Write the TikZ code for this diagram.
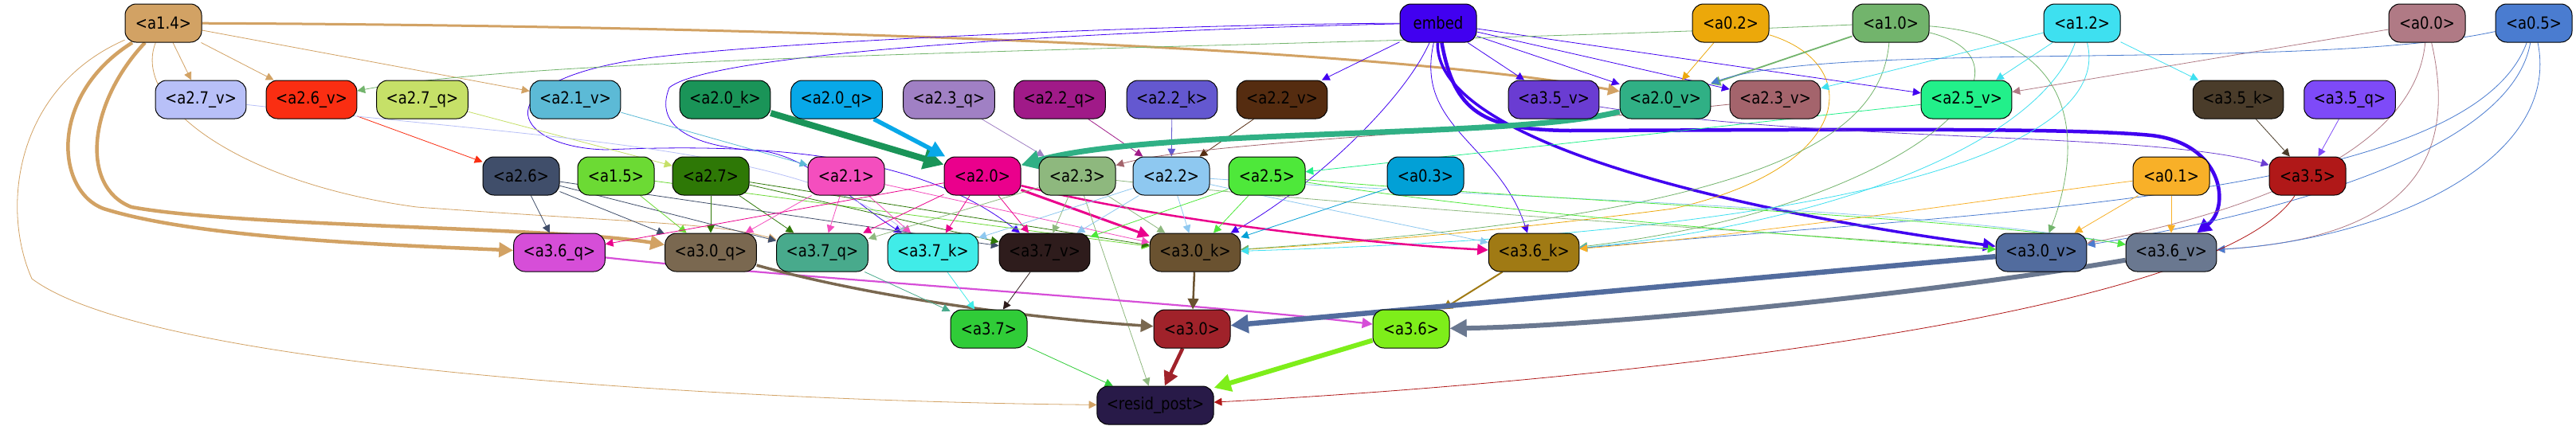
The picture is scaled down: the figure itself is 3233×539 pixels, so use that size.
\documentclass[tikz,border=0pt]{standalone}
\usepackage{fontspec}
\setmainfont{DejaVu Sans}[FakeStretch=0.86]
\usetikzlibrary{arrows.meta}
\pgfdeclarelayer{bg}
\pgfsetlayers{bg,main}

\definecolor{c14}{RGB}{210,162,100}
\definecolor{cemb}{RGB}{65,0,240}
\definecolor{c02}{RGB}{236,168,10}
\definecolor{c10}{RGB}{114,180,108}
\definecolor{c12}{RGB}{62,224,240}
\definecolor{c00}{RGB}{176,122,133}
\definecolor{c05}{RGB}{74,124,208}
\definecolor{c27v}{RGB}{184,192,248}
\definecolor{c26v}{RGB}{250,46,18}
\definecolor{c27q}{RGB}{198,224,104}
\definecolor{c21v}{RGB}{92,186,214}
\definecolor{c20k}{RGB}{26,148,88}
\definecolor{c20q}{RGB}{8,168,232}
\definecolor{c23q}{RGB}{160,128,196}
\definecolor{c22q}{RGB}{160,26,136}
\definecolor{c22k}{RGB}{100,88,208}
\definecolor{c22v}{RGB}{85,44,16}
\definecolor{c35v}{RGB}{106,60,210}
\definecolor{c20v}{RGB}{48,176,133}
\definecolor{c23v}{RGB}{164,100,108}
\definecolor{c25v}{RGB}{34,240,138}
\definecolor{c35k}{RGB}{74,60,42}
\definecolor{c35q}{RGB}{126,74,248}
\definecolor{c26}{RGB}{64,78,106}
\definecolor{c15}{RGB}{108,218,52}
\definecolor{c27}{RGB}{46,120,6}
\definecolor{c21}{RGB}{244,78,190}
\definecolor{c20}{RGB}{234,0,140}
\definecolor{c23}{RGB}{142,184,126}
\definecolor{c22}{RGB}{142,200,240}
\definecolor{c25}{RGB}{78,232,58}
\definecolor{c03}{RGB}{2,160,214}
\definecolor{c01}{RGB}{248,176,40}
\definecolor{c35}{RGB}{176,24,24}
\definecolor{c36q}{RGB}{214,78,216}
\definecolor{c30q}{RGB}{122,104,80}
\definecolor{c37q}{RGB}{72,170,140}
\definecolor{c37k}{RGB}{64,236,232}
\definecolor{c37v}{RGB}{46,28,28}
\definecolor{c30k}{RGB}{106,82,48}
\definecolor{c36k}{RGB}{160,122,20}
\definecolor{c30v}{RGB}{82,108,158}
\definecolor{c36v}{RGB}{106,120,144}
\definecolor{c37}{RGB}{48,204,56}
\definecolor{c30}{RGB}{160,34,42}
\definecolor{c36}{RGB}{126,238,26}
\definecolor{cres}{RGB}{40,26,72}

\begin{document}
\begin{tikzpicture}[x=1pt, y=-1pt,
  box/.style={draw=black, line width=1pt, rounded corners=14pt, minimum width=96pt,
    minimum height=48pt, inner xsep=12pt, font=\fontsize{21}{24}\selectfont},
  ed/.style={-{Triangle[length=8pt 2.2, width=8pt 2.2]}, line width=0.8pt}
]
  \useasboundingbox (0,0) rectangle (3233,539);

  % --- top row ---
  \node[box, fill=c14] (a14) at (205,29) {<a1.4>};
  \node[box, fill=cemb] (emb) at (1805,29) {embed};
  \node[box, fill=c02] (a02) at (2172,29) {<a0.2>};
  \node[box, fill=c10] (a10) at (2373,29) {<a1.0>};
  \node[box, fill=c12] (a12) at (2613,29) {<a1.2>};
  \node[box, fill=c00] (a00) at (3046,29) {<a0.0>};
  \node[box, fill=c05] (a05) at (3180,29) {<a0.5>};

  % --- layer 2 inputs ---
  \node[box, fill=c27v] (a27v) at (252,125) {<a2.7\_v>};
  \node[box, fill=c26v] (a26v) at (391,125) {<a2.6\_v>};
  \node[box, fill=c27q] (a27q) at (530,125) {<a2.7\_q>};
  \node[box, fill=c21v] (a21v) at (722,125) {<a2.1\_v>};
  \node[box, fill=c20k] (a20k) at (910,125) {<a2.0\_k>};
  \node[box, fill=c20q] (a20q) at (1050,125) {<a2.0\_q>};
  \node[box, fill=c23q] (a23q) at (1191,125) {<a2.3\_q>};
  \node[box, fill=c22q] (a22q) at (1330,125) {<a2.2\_q>};
  \node[box, fill=c22k] (a22k) at (1471,125) {<a2.2\_k>};
  \node[box, fill=c22v] (a22v) at (1609,125) {<a2.2\_v>};
  \node[box, fill=c35v] (a35v) at (1950,125) {<a3.5\_v>};
  \node[box, fill=c20v] (a20v) at (2090,125) {<a2.0\_v>};
  \node[box, fill=c23v] (a23v) at (2228,125) {<a2.3\_v>};
  \node[box, fill=c25v] (a25v) at (2468,125) {<a2.5\_v>};
  \node[box, fill=c35k] (a35k) at (2809,125) {<a3.5\_k>};
  \node[box, fill=c35q] (a35q) at (2949,125) {<a3.5\_q>};

  % --- layer 2 heads ---
  \node[box, fill=c26] (a26) at (654,221) {<a2.6>};
  \node[box, fill=c15] (a15) at (773,221) {<a1.5>};
  \node[box, fill=c27] (a27) at (892,221) {<a2.7>};
  \node[box, fill=c21] (a21) at (1062,221) {<a2.1>};
  \node[box, fill=c20] (a20) at (1233,221) {<a2.0>};
  \node[box, fill=c23] (a23) at (1352,221) {<a2.3>};
  \node[box, fill=c22] (a22) at (1470,221) {<a2.2>};
  \node[box, fill=c25] (a25) at (1590,221) {<a2.5>};
  \node[box, fill=c03] (a03) at (1789,221) {<a0.3>};
  \node[box, fill=c01] (a01) at (2725,221) {<a0.1>};
  \node[box, fill=c35] (a35) at (2896,221) {<a3.5>};

  % --- layer 3 inputs ---
  \node[box, fill=c36q] (a36q) at (702,317) {<a3.6\_q>};
  \node[box, fill=c30q] (a30q) at (892,317) {<a3.0\_q>};
  \node[box, fill=c37q] (a37q) at (1032,317) {<a3.7\_q>};
  \node[box, fill=c37k] (a37k) at (1171,317) {<a3.7\_k>};
  \node[box, fill=c37v] (a37v) at (1311,317) {<a3.7\_v>};
  \node[box, fill=c30k] (a30k) at (1500,317) {<a3.0\_k>};
  \node[box, fill=c36k] (a36k) at (1925,317) {<a3.6\_k>};
  \node[box, fill=c30v] (a30v) at (2562,317) {<a3.0\_v>};
  \node[box, fill=c36v] (a36v) at (2725,317) {<a3.6\_v>};

  % --- layer 3 heads and output ---
  \node[box, fill=c37] (a37) at (1241,413) {<a3.7>};
  \node[box, fill=c30] (a30) at (1496,413) {<a3.0>};
  \node[box, fill=c36] (a36) at (1771,413) {<a3.6>};
  \node[box, fill=cres] (resid) at (1450,509) {<resid\_post>};

  \begin{pgfonlayer}{bg}
  \fill[white] (0,0) rectangle (3233,539);
  % a1.4
  \draw[ed, draw=c14] (a14) -- (a27v);
  \draw[ed, draw=c14] (a14) -- (a26v);
  \draw[ed, draw=c14] (a14) -- (a21v);
  \draw[ed, draw=c14, line width=3pt] (a14) .. controls (900,32) and (1700,55) .. (a20v);
  \draw[ed, draw=c14, line width=4.5pt] (a14) .. controls (60,120) and (70,240) .. (130,262) .. controls (250,300) and (500,308) .. (a36q);
  \draw[ed, draw=c14, line width=4.5pt] (a14) .. controls (110,130) and (100,235) .. (165,260) .. controls (300,285) and (700,285) .. (a30q);
  \draw[ed, draw=c14] (a14) .. controls (20,110) and (0,260) .. (40,350) .. controls (200,470) and (1000,505) .. (resid);
  \draw[ed, draw=c14] (a14) .. controls (165,130) and (300,230) .. (523,260) .. controls (800,280) and (900,280) .. (a37q);

  % embed
  \draw[ed, draw=cemb] (emb) -- (a22v);
  \draw[ed, draw=cemb] (emb) -- (a35v);
  \draw[ed, draw=cemb] (emb) -- (a20v);
  \draw[ed, draw=cemb] (emb) -- (a23v);
  \draw[ed, draw=cemb] (emb) -- (a25v);
  \draw[ed, draw=cemb] (emb) .. controls (1500,30) and (1000,50) .. (820,72) .. controls (600,100) and (640,185) .. (760,188) .. controls (950,180) and (1150,190) .. (a37v);
  \draw[ed, draw=cemb] (emb) .. controls (1500,35) and (900,60) .. (840,110) .. controls (820,160) and (870,185) .. (960,190) .. controls (1020,200) and (1080,260) .. (a37k);
  \draw[ed, draw=cemb] (emb) .. controls (1775,160) and (1880,180) .. (a36k);
  \draw[ed, draw=cemb] (emb) .. controls (1760,130) and (1640,240) .. (a30k);
  \draw[ed, draw=cemb, line width=3.5pt] (emb) .. controls (1800,190) and (2250,275) .. (a30v);
  \draw[ed, draw=cemb, line width=4.5pt] (emb) .. controls (1825,140) and (1860,163) .. (1970,164) .. controls (2300,163) and (2600,160) .. (2700,170) .. controls (2790,180) and (2800,260) .. (a36v);

  % a0.2, a1.0, a1.2
  \draw[ed, draw=c02] (a02) -- (a20v);
  \draw[ed, draw=c02] (a02) .. controls (2340,80) and (2330,210) .. (2100,262) .. controls (1850,295) and (1650,308) .. (a30k);
  \draw[ed, draw=c10] (a10) .. controls (1600,62) and (700,66) .. (a26v);
  \draw[ed, draw=c10, line width=1.8pt] (a10) -- (a20v);
  \draw[ed, draw=c10] (a10) .. controls (2640,50) and (2600,220) .. (a30v);
  \draw[ed, draw=c10] (a10) .. controls (2360,180) and (2200,270) .. (a30k);
  \draw[ed, draw=c10] (a10) .. controls (2580,80) and (2400,260) .. (a36k);
  \draw[ed, draw=c12] (a12) -- (a23v);
  \draw[ed, draw=c12] (a12) -- (a25v);
  \draw[ed, draw=c12] (a12) -- (a35k);
  \draw[ed, draw=c12] (a12) .. controls (2560,180) and (2300,280) .. (a36k);
  \draw[ed, draw=c12] (a12) .. controls (2650,170) and (2400,290) .. (a30k);

  % a0.0, a0.5
  \draw[ed, draw=c00] (a00) -- (a25v);
  \draw[ed, draw=c00] (a00) .. controls (3030,200) and (2800,270) .. (a30v);
  \draw[ed, draw=c00] (a00) .. controls (3090,220) and (3000,300) .. (a36v);
  \draw[ed, draw=c05] (a05) .. controls (2900,90) and (2300,50) .. (a20v);
  \draw[ed, draw=c05] (a05) .. controls (3100,250) and (2500,265) .. (a36k);
  \draw[ed, draw=c05] (a05) .. controls (3150,200) and (2820,275) .. (a30v);
  \draw[ed, draw=c05] (a05) .. controls (3215,200) and (3000,300) .. (a36v);

  % layer 2 inputs to heads
  \draw[ed, draw=c26v] (a26v) -- (a26);
  \draw[ed, draw=c27q] (a27q) -- (a27);
  \draw[ed, draw=c21v] (a21v) -- (a21);
  \draw[ed, draw=c20k, line width=8pt] (a20k) -- (a20);
  \draw[ed, draw=c20q, line width=5.5pt] (a20q) -- (a20);
  \draw[ed, draw=c23q] (a23q) -- (a23);
  \draw[ed, draw=c22q] (a22q) -- (a22);
  \draw[ed, draw=c22k] (a22k) -- (a22);
  \draw[ed, draw=c22v] (a22v) -- (a22);
  \draw[ed, draw=c23v] (a23v) .. controls (1800,170) and (1500,180) .. (a23);
  \draw[ed, draw=c20v, line width=7pt] (a20v) .. controls (1900,175) and (1450,160) .. (a20);
  \draw[ed, draw=c25v] (a25v) -- (a25);
  \draw[ed, draw=c35v] (a35v) .. controls (2300,180) and (2700,165) .. (a35);
  \draw[ed, draw=c35k] (a35k) -- (a35);
  \draw[ed, draw=c35q] (a35q) -- (a35);
  \draw[ed, draw=c27v] (a27v) .. controls (700,175) and (1000,185) .. (a37k);

  % layer 2 heads to layer 3 inputs
  \draw[ed, draw=c26] (a26) -- (a36q);
  \draw[ed, draw=c26] (a26) -- (a30q);
  \draw[ed, draw=c26] (a26) -- (a37q);
  \draw[ed, draw=c26] (a26) -- (a37v);
  \draw[ed, draw=c15] (a15) -- (a30q);
  \draw[ed, draw=c15] (a15) -- (a30k);
  \draw[ed, draw=c27] (a27) -- (a30q);
  \draw[ed, draw=c27] (a27) -- (a37q);
  \draw[ed, draw=c27] (a27) -- (a37v);
  \draw[ed, draw=c27] (a27) -- (a30k);
  \draw[ed, draw=c21] (a21) -- (a30q);
  \draw[ed, draw=c21] (a21) -- (a37q);
  \draw[ed, draw=c21] (a21) -- (a37k);
  \draw[ed, draw=c21] (a21) -- (a30k);
  \draw[ed, draw=c20] (a20) -- (a36q);
  \draw[ed, draw=c20] (a20) -- (a37q);
  \draw[ed, draw=c20] (a20) -- (a37k);
  \draw[ed, draw=c20] (a20) -- (a37v);
  \draw[ed, draw=c20, line width=3pt] (a20) -- (a30k);
  \draw[ed, draw=c20, line width=2.5pt] (a20) .. controls (1450,275) and (1700,305) .. (a36k);
  \draw[ed, draw=c23] (a23) -- (a37q);
  \draw[ed, draw=c23] (a23) -- (a37v);
  \draw[ed, draw=c23] (a23) -- (a30k);
  \draw[ed, draw=c23] (a23) -- (resid);
  \draw[ed, draw=c23] (a23) .. controls (1700,260) and (2200,290) .. (a30v);
  \draw[ed, draw=c22] (a22) -- (a37k);
  \draw[ed, draw=c22] (a22) -- (a37v);
  \draw[ed, draw=c22] (a22) -- (a30k);
  \draw[ed, draw=c22] (a22) .. controls (1650,260) and (1800,290) .. (a36k);
  \draw[ed, draw=c22] (a22) .. controls (1900,250) and (2400,260) .. (a36v);
  \draw[ed, draw=c25] (a25) -- (a37v);
  \draw[ed, draw=c25] (a25) -- (a30k);
  \draw[ed, draw=c25] (a25) .. controls (1900,270) and (2300,300) .. (a30v);
  \draw[ed, draw=c25] (a25) .. controls (1900,250) and (2450,270) .. (a36v);
  \draw[ed, draw=c03] (a03) -- (a30k);
  \draw[ed, draw=c01] (a01) -- (a30v);
  \draw[ed, draw=c01] (a01) -- (a36v);
  \draw[ed, draw=c01] (a01) .. controls (2500,250) and (2200,295) .. (a36k);

  % layer 3 inputs to heads
  \draw[ed, draw=c36q, line width=2.2pt] (a36q) .. controls (1000,350) and (1500,380) .. (a36);
  \draw[ed, draw=c30q, line width=3.5pt] (a30q) .. controls (1100,375) and (1300,400) .. (a30);
  \draw[ed, draw=c37q] (a37q) -- (a37);
  \draw[ed, draw=c37k] (a37k) -- (a37);
  \draw[ed, draw=c37v] (a37v) -- (a37);
  \draw[ed, draw=c30k, line width=2.5pt] (a30k) -- (a30);
  \draw[ed, draw=c36k, line width=2pt] (a36k) -- (a36);
  \draw[ed, draw=c30v, line width=6.5pt] (a30v) -- (a30);
  \draw[ed, draw=c36v, line width=6pt] (a36v) .. controls (2400,372) and (2000,410) .. (a36);

  % to the output
  \draw[ed, draw=c37] (a37) -- (resid);
  \draw[ed, draw=c30, line width=4.5pt] (a30) -- (resid);
  \draw[ed, draw=c36, line width=6pt] (a36) -- (resid);
  \draw[ed, draw=c35] (a35) .. controls (2780,400) and (2000,480) .. (resid);
  \end{pgfonlayer}
\end{tikzpicture}
\end{document}
